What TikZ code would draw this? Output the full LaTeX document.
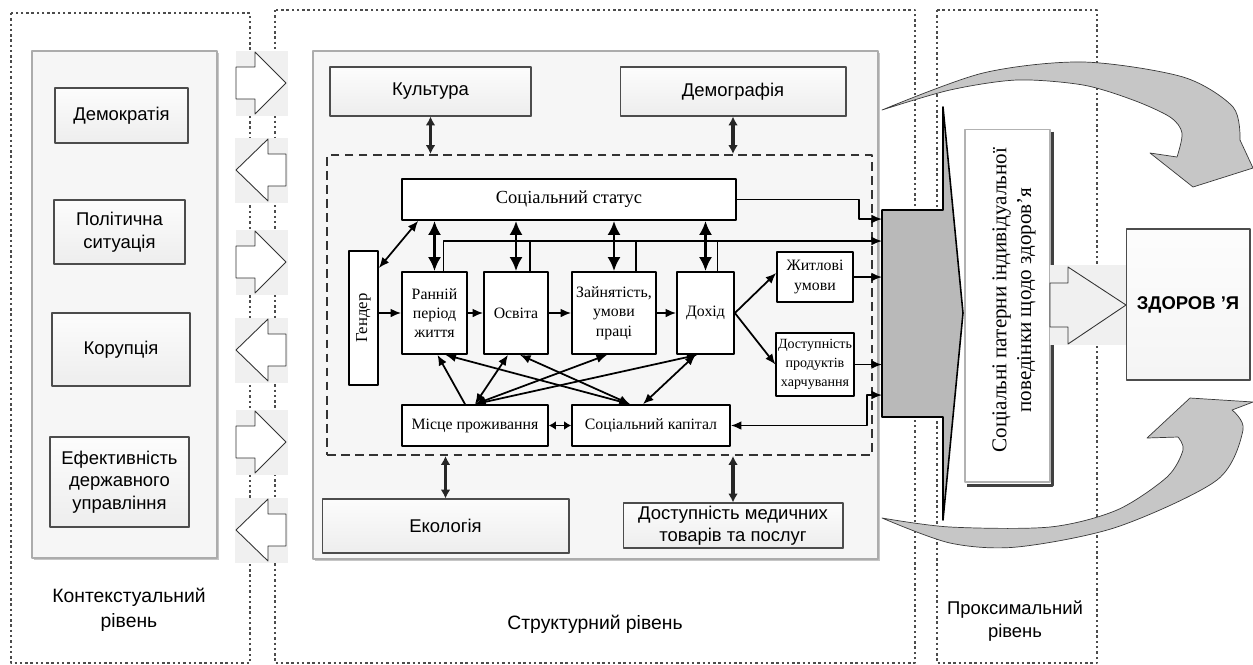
\documentclass[tikz,border=0pt]{standalone}
\usepackage{fontspec}
\setmainfont{Liberation Serif}
\newfontfamily\sansf{Liberation Sans}
\usetikzlibrary{arrows.meta,calc,shadows}

\begin{document}
\begin{tikzpicture}[x=0.02cm, y=-0.02cm, line join=round,
    >={Latex[length=6pt,width=5pt]},
    frame/.style={gray!60!black, line width=1.1pt, dash pattern=on 1.4pt off 1.6pt},
    panel/.style={draw=gray!65, fill=gray!7, line width=0.8pt,
      drop shadow={shadow xshift=1pt, shadow yshift=-1pt, fill=gray!45, opacity=1}},
    greybox/.style={draw=gray!60!black, line width=0.6pt, top color=gray!2, bottom color=gray!14,
      align=center, inner sep=1pt, font=\sansf\fontsize{10.5}{12.8}\selectfont,
      drop shadow={shadow xshift=0.8pt, shadow yshift=-0.8pt, fill=gray!45, opacity=1}},
    blk/.style={draw=black, fill=white, line width=1pt, align=center, inner sep=1pt,
      font=\fontsize{9}{11}\selectfont},
    link/.style={line width=1pt},
    biglink/.style={line width=1.6pt, >={Latex[length=8pt,width=7.5pt]}},
    graylink/.style={gray!30!black, line width=1.8pt, >={Latex[length=5pt,width=5.5pt]}, <->},
    levellabel/.style={align=center, font=\sansf\fontsize{11}{14}\selectfont},
    cellbg/.style={fill=gray!12},
    blockarrow/.style={draw=gray!40!black, fill=white, line width=0.5pt},
    curvearrow/.style={fill=gray!45, draw=gray!45!black, line width=0.4pt},
]
    \useasboundingbox (0,0) rectangle (1253,664);

    % рамки рівнів
    \draw[frame] (11,13) rectangle (250,663);
    \draw[frame] (275,10) rectangle (915,663);
    \draw[frame] (937,10) rectangle (1097,663);

    % контекстуальний рівень
    \node[panel, minimum width=3.7cm, minimum height=10.14cm] (context) at (124.5,304.5) {};
    \node[greybox, minimum width=2.66cm, minimum height=1.1cm] (democr) at (121.5,115.5) {Демократія};
    \node[greybox, minimum width=2.62cm, minimum height=1.28cm] (polit) at (119.5,232) {Політична\\ситуація};
    \node[greybox, minimum width=2.76cm, minimum height=1.46cm] (corrupt) at (121,349.5) {Корупція};
    \node[greybox, minimum width=2.78cm, minimum height=1.8cm] (govern) at (119.5,482) {Ефективність\\державного\\управління};

    % блокові стрілки між рівнями
    \foreach \cy in {83,262,442}{
        \fill[cellbg] (236,\cy-32) rectangle (288,\cy+33);
        \draw[blockarrow] (236,\cy-16) -- (255,\cy-16) -- (255,\cy-31) -- (286,\cy)
            -- (255,\cy+31) -- (255,\cy+16) -- (236,\cy+16) -- cycle;
    }
    \foreach \cy in {170,350,530}{
        \fill[cellbg] (235,\cy-32) rectangle (288,\cy+33);
        \draw[blockarrow] (236,\cy) -- (268,\cy-31) -- (268,\cy-16) -- (286,\cy-16)
            -- (286,\cy+16) -- (268,\cy+16) -- (268,\cy+31) -- cycle;
    }

    % структурний рівень
    \node[panel, minimum width=11.3cm, minimum height=10.16cm] (structural) at (595.5,305) {};
    \node[greybox, minimum width=4.02cm, minimum height=0.98cm] (culture) at (430.5,91.5) {Культура};
    \node[greybox, minimum width=4.52cm, minimum height=0.98cm] (demogr) at (733,91.5) {Демографія};
    \node[draw=gray!40!black, line width=1.2pt, dash pattern=on 5pt off 3pt,
        minimum width=10.9cm, minimum height=6cm] (core) at (599.5,305) {};
    \node[greybox, minimum width=4.94cm, minimum height=1.08cm] (ecology) at (445.5,526) {Екологія};
    \node[greybox, minimum width=4.4cm, minimum height=0.9cm] (medical) at (733,525.5) {Доступність медичних\\товарів та послуг};

    \draw[graylink] (culture.south) -- (culture.south |- core.north);
    \draw[graylink] (demogr.south) -- (demogr.south |- core.north);
    \draw[graylink] (ecology.north) -- (ecology.north |- core.south);
    \draw[graylink] (medical.north) -- (medical.north |- core.south);

    % внутрішні чинники
    \node[blk, minimum width=6.68cm, minimum height=0.82cm, font=\fontsize{10.5}{12}\selectfont] (status) at (569,199.5) {Соціальний статус};
    \node[blk, rotate=90, minimum width=2.68cm, minimum height=0.58cm, font=\fontsize{9.5}{11}\selectfont] (gender) at (363.5,318) {Гендер};
    \node[blk, minimum width=1.3cm, minimum height=1.64cm] (early) at (434.5,313) {Ранній\\період\\життя};
    \node[blk, minimum width=1.28cm, minimum height=1.64cm] (educ) at (516,313) {Освіта};
    \node[blk, minimum width=1.68cm, minimum height=1.64cm] (employ) at (614,313) {Зайнятість,\\умови\\праці};
    \node[blk, minimum width=1.14cm, minimum height=1.64cm] (income) at (705.5,313) {Дохід};
    \node[blk, minimum width=1.52cm, minimum height=1cm] (housing) at (815,277) {Житлові\\умови};
    \node[blk, minimum width=1.52cm, minimum height=1.26cm, font=\fontsize{8}{11}\selectfont] (food) at (815,364.5) {Доступність\\продуктів\\харчування};
    \node[blk, minimum width=2.92cm, minimum height=0.82cm] (place) at (475,425.5) {Місце проживання};
    \node[blk, minimum width=3.16cm, minimum height=0.82cm] (capital) at (651,425.5) {Соціальний капітал};

    % великий сірий блок-стрілка
    \coordinate (gate) at (882,313);
    \coordinate (gstat) at (882,219);
    \coordinate (gline) at (882,241);
    \coordinate (gcap) at (882,395);
    \filldraw[fill=gray!55, draw=black, line width=0.9pt] (882,210) -- (943,210) -- (943,107)
        -- (963,313) -- (943,520) -- (943,417) -- (882,417) -- cycle;

    % зв'язки зі статусом
    \foreach \b in {early,educ,employ,income}
        \draw[biglink,<->] (\b.north) -- (\b.north |- status.south);
    \foreach \b/\dx in {educ/14,employ/22,income/12}
        \draw[link] ($(\b.north)+(\dx,0)$) -- ++(0,-31);
    \draw[link,->] ($(early.north)+(9,0)$) |- (gline);
    \draw[link,->] (status.east) -- ++(122,0) |- (gstat);
    \draw[link,<->] ($(gender.south)+(0,-50)$) -- ($(status.south west)+(17,0)$);

    % ланцюг чинників
    \draw[link,->] (early.west -| gender.south) -- (early.west);
    \foreach \a/\b in {early/educ,educ/employ,employ/income}
        \draw[link,->] (\a.east) -- (\b.west);
    \draw[link,->] (income.east) -- ($(housing.west)+(0,-4)$);
    \draw[link,->] (income.east) -- (food.west);
    \draw[link,->] (housing.east) -- (housing.east -| gate);
    \draw[link,->] (food.east) -- (food.east -| gate);
    \draw[link,<->] (capital.east) -- ++(136,0) |- (gcap);
    \draw[link,<->, >={Latex[length=4pt,width=5pt]}] (place.east) -- (capital.west);

    % перехресні зв'язки
    \draw[link,->] ($(place.north)+(-10,0)$) -- ($(early.south)+(3,0)$);
    \draw[link,<->] (place.north) -- ($(educ.south)+(-8,0)$);
    \draw[link,<->] (place.north) -- ($(employ.south)+(-7,0)$);
    \draw[link,<->] (place.north) -- ($(income.south)+(-8,0)$);
    \draw[link,<->] ($(capital.north)+(-21,0)$) -- ($(early.south)+(11,0)$);
    \draw[link,<->] ($(capital.north)+(-21,0)$) -- ($(educ.south)+(4,0)$);
    \draw[link,<->] ($(capital.north)+(-8,0)$) -- ($(income.south)+(-10,0)$);

    % проксимальний рівень
    \node[draw=gray!60, fill=white, line width=0.6pt, minimum width=1.7cm, minimum height=7.06cm] (patterns) at (1007.5,305.5) {};
    \node[rotate=90, align=center, font=\fontsize{12}{14}\selectfont] (patternstext) at (1014,300)
        {Соціальні патерни індивідуальної\\поведінки щодо здоров’я};
    \draw[gray!50!black, line width=1.2pt] ($(patterns.north east)+(2,3)$) -- ($(patterns.south east)+(2,3)$)
        -- ($(patterns.south west)+(3,3)$);

    % стрілка до здоров'я
    \fill[cellbg] (1050,265) rectangle (1126,345);
    \draw[blockarrow, fill=gray!12] (1050,283) -- (1068,283) -- (1068,267) -- (1126,305)
        -- (1068,344) -- (1068,327) -- (1050,327) -- cycle;
    \node[greybox, minimum width=2.48cm, minimum height=3.02cm, bottom color=gray!8,
        font=\sansf\bfseries\fontsize{10.5}{12}\selectfont] (health) at (1188,304.5) {ЗДОРОВ ’Я};

    % вигнуті стрілки
    \filldraw[curvearrow] plot[smooth] coordinates {(882,110) (983,73) (1083,62) (1183,77) (1233,107) (1240,140)}
        -- (1253,168) -- (1193,187) -- (1150,153)
        -- plot[smooth] coordinates {(1177,157) (1182,133) (1170,117) (1133,100) (1083,85) (1017,80) (950,90) (882,110)}
        -- cycle;
    \filldraw[curvearrow] plot[smooth] coordinates {(882,518) (950,543) (1017,547) (1117,527) (1217,480) (1243,430) (1232,410)}
        -- (1253,402) -- (1190,398) -- (1147,438)
        -- plot[smooth] coordinates {(1178,437) (1183,450) (1167,477) (1117,510) (1050,527) (950,527) (882,518)}
        -- cycle;

    % підписи рівнів
    \node[levellabel] (ctxlabel) at (129,610) {Контекстуальний\\рівень};
    \node[levellabel] (strlabel) at (595,624) {Структурний рівень};
    \node[levellabel, font=\sansf\fontsize{10.5}{13.5}\selectfont] (proxlabel) at (1015,621) {Проксимальний\\рівень};
\end{tikzpicture}
\end{document}
